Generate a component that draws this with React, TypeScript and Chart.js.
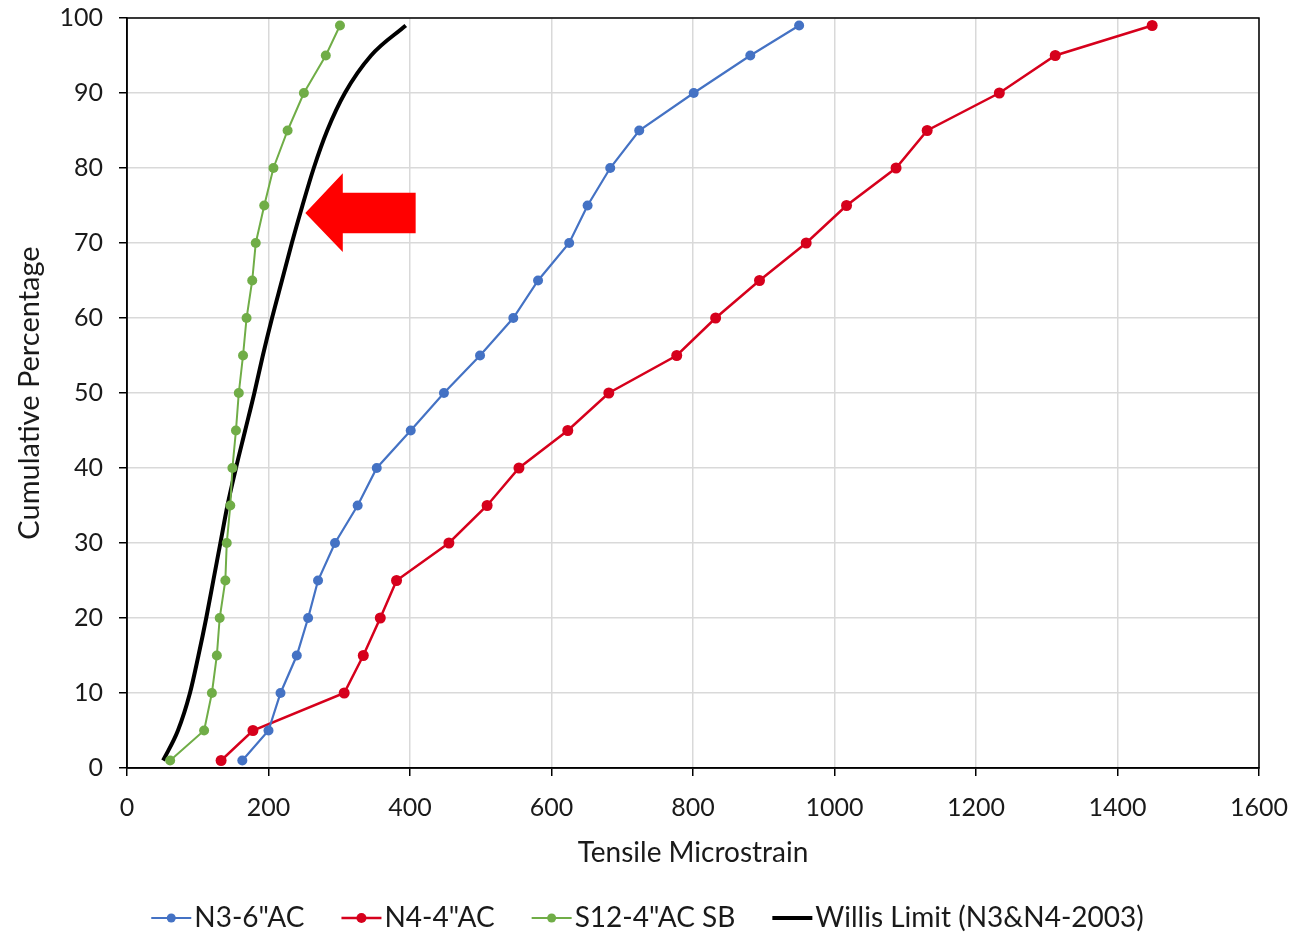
import React, { useEffect, useRef } from "react";
import { Chart, registerables } from "chart.js";

Chart.register(...registerables);

const yLevels = [1, 5, 10, 15, 20, 25, 30, 35, 40, 45, 50, 55, 60, 65, 70, 75, 80, 85, 90, 95, 99];
const n3Strain = [163, 200, 217, 240, 256, 270, 294, 326, 353, 401, 448, 499, 546, 581, 625, 651, 683, 724, 801, 881, 950];
const n4Strain = [133, 178, 307, 334, 358, 381, 455, 509, 554, 623, 681, 777, 832, 894, 960, 1017, 1087, 1131, 1233, 1312, 1449];
const s12Strain = [61, 109, 120, 127, 131, 139, 141, 146, 149, 154, 158, 164, 169, 177, 182, 194, 207, 227, 250, 281, 301];
const willisStrain = [51, 72, 89, 101, 112, 122, 132, 142, 154, 167, 180, 192, 205, 219, 233, 248, 264, 283, 308, 345, 394];

const seriesLabels = ['N3-6"AC', 'N4-4"AC', 'S12-4"AC SB', "Willis Limit (N3&N4-2003)"];
const xTitle = "Tensile Microstrain";
const yTitle = "Cumulative Percentage";

// arrow annotation (data coordinates)
const arrowTip = { x: 252, y: 74 };
const arrowHeadBase = { x: 305, yTop: 79.3, yBottom: 68.8 };
const arrowBody = { xEnd: 408, yTop: 76.7, yBottom: 71.3 };

const FONT = "Lato, 'Liberation Sans', sans-serif";
const TEXT = "#1a1a1a";

const toPoints = (xs: number[]) => xs.map((x, i) => ({ x, y: yLevels[i] }));

const framePlugin = {
  id: "frame",
  beforeDatasetsDraw(chart: any) {
    const { ctx, chartArea } = chart;
    ctx.save();
    ctx.strokeStyle = "#000";
    ctx.lineWidth = 1.5;
    ctx.strokeRect(chartArea.left, chartArea.top, chartArea.right - chartArea.left, chartArea.bottom - chartArea.top);
    ctx.restore();
  },
};

const arrowPlugin = {
  id: "arrow",
  afterDatasetsDraw(chart: any) {
    const { ctx, scales } = chart;
    const xs = scales.x;
    const ys = scales.y;
    ctx.save();
    ctx.fillStyle = "#ff0000";
    ctx.beginPath();
    ctx.moveTo(xs.getPixelForValue(arrowTip.x), ys.getPixelForValue(arrowTip.y));
    ctx.lineTo(xs.getPixelForValue(arrowHeadBase.x), ys.getPixelForValue(arrowHeadBase.yTop));
    ctx.lineTo(xs.getPixelForValue(arrowHeadBase.x), ys.getPixelForValue(arrowBody.yTop));
    ctx.lineTo(xs.getPixelForValue(arrowBody.xEnd), ys.getPixelForValue(arrowBody.yTop));
    ctx.lineTo(xs.getPixelForValue(arrowBody.xEnd), ys.getPixelForValue(arrowBody.yBottom));
    ctx.lineTo(xs.getPixelForValue(arrowHeadBase.x), ys.getPixelForValue(arrowBody.yBottom));
    ctx.lineTo(xs.getPixelForValue(arrowHeadBase.x), ys.getPixelForValue(arrowHeadBase.yBottom));
    ctx.closePath();
    ctx.fill();
    ctx.restore();
  },
};

const legendPlugin = {
  id: "customLegend",
  afterDraw(chart: any) {
    const { ctx, width } = chart;
    const datasets = chart.data.datasets;
    const lineLen = 40;
    const textGap = 3;
    const itemGap = 37;
    const yc = 918;
    ctx.save();
    ctx.font = `28px ${FONT}`;
    ctx.textBaseline = "middle";
    const widths = datasets.map((d: any) => lineLen + textGap + ctx.measureText(d.label).width);
    const total = widths.reduce((a: number, b: number) => a + b, 0) + itemGap * (datasets.length - 1);
    let x = (width - total) / 2;
    datasets.forEach((d: any, i: number) => {
      ctx.strokeStyle = d.borderColor;
      ctx.lineWidth = d.borderWidth;
      ctx.beginPath();
      ctx.moveTo(x, yc);
      ctx.lineTo(x + lineLen, yc);
      ctx.stroke();
      if (d.pointRadius > 0) {
        ctx.fillStyle = d.pointBackgroundColor;
        ctx.beginPath();
        ctx.arc(x + lineLen / 2, yc, d.pointRadius - 0.5, 0, Math.PI * 2);
        ctx.fill();
      }
      ctx.fillStyle = TEXT;
      ctx.textAlign = "left";
      ctx.fillText(d.label, x + lineLen + textGap, yc);
      x += widths[i] + itemGap;
    });
    ctx.restore();
  },
};

export default function App() {
  const ref = useRef<HTMLCanvasElement | null>(null);
  useEffect(() => {
    document.body.style.margin = "0";
    if (!ref.current) return;
    const chart = new Chart(ref.current, {
      type: "scatter",
      data: {
        datasets: [
          {
            label: seriesLabels[0],
            data: toPoints(n3Strain),
            showLine: true,
            borderColor: "#4472c4",
            backgroundColor: "#4472c4",
            pointBackgroundColor: "#4472c4",
            pointBorderWidth: 0,
            borderWidth: 2.2,
            pointRadius: 5,
          },
          {
            label: seriesLabels[1],
            data: toPoints(n4Strain),
            showLine: true,
            borderColor: "#d6001c",
            backgroundColor: "#d6001c",
            pointBackgroundColor: "#d6001c",
            pointBorderWidth: 0,
            borderWidth: 2.5,
            pointRadius: 5.5,
          },
          {
            label: seriesLabels[2],
            data: toPoints(s12Strain),
            showLine: true,
            borderColor: "#70ad47",
            backgroundColor: "#70ad47",
            pointBackgroundColor: "#70ad47",
            pointBorderWidth: 0,
            borderWidth: 2,
            pointRadius: 5,
          },
          {
            label: seriesLabels[3],
            data: toPoints(willisStrain),
            showLine: true,
            borderColor: "#000000",
            backgroundColor: "#000000",
            pointBackgroundColor: "#000000",
            borderWidth: 4,
            pointRadius: 0,
            cubicInterpolationMode: "monotone",
          },
        ],
      },
      options: {
        animation: false,
        responsive: false,
        maintainAspectRatio: false,
        layout: { padding: { top: 18, right: 36, bottom: 46, left: 0 } },
        plugins: {
          legend: { display: false },
          tooltip: { enabled: false },
        },
        scales: {
          x: {
            type: "linear",
            min: 0,
            max: 1600,
            ticks: {
              stepSize: 200,
              color: TEXT,
              font: { family: FONT, size: 25 },
              padding: 17,
              maxRotation: 0,
              callback: (v: any) => String(v),
            },
            grid: { color: "#d9d9d9", lineWidth: 1.5, tickLength: 8, tickColor: "#000" },
            border: { color: "#000", width: 1.5 },
            title: { display: true, text: xTitle, color: TEXT, font: { family: FONT, size: 28 }, padding: { top: 0, bottom: 20 } },
            afterFit(scale: any) {
              scale.height = 122;
              scale.paddingLeft = 0;
              scale.paddingRight = 0;
            },
          },
          y: {
            type: "linear",
            min: 0,
            max: 100,
            ticks: {
              stepSize: 10,
              color: TEXT,
              font: { family: FONT, size: 25 },
              padding: 16,
              callback: (v: any) => String(v),
            },
            grid: { color: "#d9d9d9", lineWidth: 1.5, tickLength: 8, tickColor: "#000" },
            border: { color: "#000", width: 1.5 },
            title: { display: true, text: yTitle, color: TEXT, font: { family: FONT, size: 29 }, padding: { top: 12.6, bottom: 0 } },
            afterFit(scale: any) {
              scale.width = 127;
              scale.paddingTop = 0;
              scale.paddingBottom = 0;
            },
          },
        },
      },
      plugins: [framePlugin, arrowPlugin, legendPlugin],
    });
    return () => chart.destroy();
  }, []);
  return (
    <div style={{ width: 1295, height: 936, background: "#fff" }}>
      <canvas ref={ref} width={1295} height={936} style={{ display: "block" }} />
    </div>
  );
}
